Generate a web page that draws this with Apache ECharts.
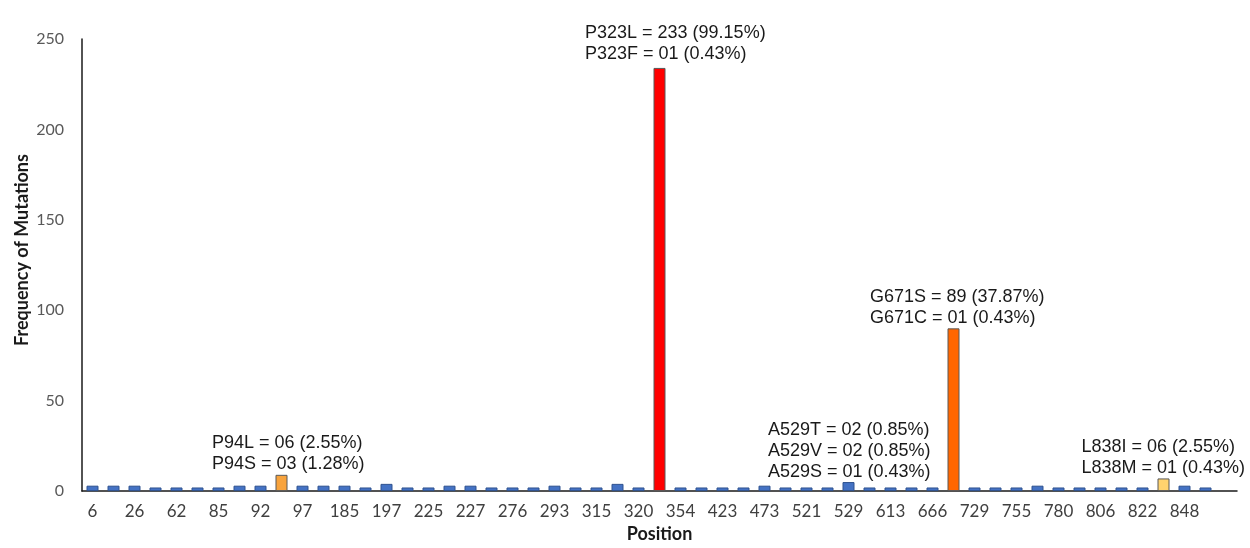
<!DOCTYPE html>
<html>
<head>
<meta charset="utf-8">
<script src="https://cdn.jsdelivr.net/npm/echarts@6/dist/echarts.min.js"></script>
<style>
html,body{margin:0;padding:0;background:#fff;}
#chart{width:1250px;height:548px;}
</style>
</head>
<body>
<div id="chart"></div>
<script>
// Positions (every other one is labelled on the axis in the reference)
const positions = ['6','14','26','48','62','71','85','88','92','94','97','133','185','192','197','214','225','226','227','252',
  '276','281','293','306','315','317','320','323','354','389','423','451','473','504','521','526','529','571','613','649',
  '666','671','729','742','755','768','780','795','806','814','822','838','848','869',''];
const frequencies = [3,3,3,2,2,2,2,3,3,9,3,3,3,2,4,2,2,3,3,2,
  2,2,3,2,2,4,2,234,2,2,2,2,3,2,2,2,5,2,2,2,
  2,90,2,2,2,3,2,2,2,2,2,7,3,2,null];
const notePositions = ['94','323','529','671','838'];
const noteTexts = [
  ['P94L = 06 (2.55%)','P94S = 03 (1.28%)'],
  ['P323L = 233 (99.15%)','P323F = 01 (0.43%)'],
  ['A529T = 02 (0.85%)','A529V = 02 (0.85%)','A529S = 01 (0.43%)'],
  ['G671S = 89 (37.87%)','G671C = 01 (0.43%)'],
  ['L838I = 06 (2.55%)','L838M = 01 (0.43%)']
];
const yTicks = [0,50,100,150,200,250];

const colorFor = {
  '94':'#F8A33C', '323':'#FF0000', '671':'#FF6600', '838':'#FFD36E'
};
const noteOffsetX = {'94':7,'323':16,'529':1,'671':4,'838':0};
const noteDist = {'94':0,'323':3,'529':0,'671':0,'838':0};

const NOTE_FONT = '18px "Liberation Sans"';
const ctx = document.createElement('canvas').getContext('2d');
ctx.font = NOTE_FONT;
function blockWidth(lines){ return Math.ceil(Math.max(...lines.map(t=>ctx.measureText(t).width))); }

const data = frequencies.map((v,i)=>{
  const cat = positions[i];
  const item = {value: v};
  const c = colorFor[cat];
  if (c) item.itemStyle = {color: c, borderColor: '#595959', borderWidth: 1};
  const ni = notePositions.indexOf(cat);
  if (ni >= 0) {
    const w = blockWidth(noteTexts[ni]);
    item.label = {
      show: true,
      position: 'top',
      distance: noteDist[cat],
      offset: [noteOffsetX[cat], 0],
      formatter: noteTexts[ni].map(t=>'{a|'+t+'}').join('\n'),
      rich: {a: {width: w, align: 'left', fontFamily: 'Liberation Sans', fontSize: 18, lineHeight: 21, color: '#1a1a1a'}}
    };
  }
  return item;
});

const chart = echarts.init(document.getElementById('chart'), null, {renderer:'canvas'});
chart.setOption({
  animation: false,
  backgroundColor: '#fff',
  grid: {left: 82, right: 13, top: 39, bottom: 51, containLabel: false},
  xAxis: {
    type: 'category',
    data: positions,
    name: 'Position',
    nameLocation: 'middle',
    nameGap: 31,
    nameTextStyle: {fontFamily: 'Lato', fontWeight: 'bold', fontSize: 18, color: '#1a1a1a'},
    axisLine: {lineStyle: {color: '#1a1a1a', width: 1.5}},
    axisTick: {show: false},
    axisLabel: {interval: 1, margin: 12, fontFamily: 'Lato', fontSize: 17, color: '#404040'}
  },
  yAxis: {
    type: 'value',
    min: yTicks[0], max: yTicks[yTicks.length-1], interval: 50,
    axisLine: {show: true, lineStyle: {color: '#1a1a1a', width: 1.5}},
    axisTick: {show: false},
    splitLine: {show: false},
    axisLabel: {margin: 18, fontFamily: 'Lato', fontSize: 16, color: '#595959'}
  },
  graphic: [{
    type: 'text',
    x: 22, y: 250,
    rotation: Math.PI/2,
    style: {text: 'Frequency of Mutations', fontFamily: 'Lato', fontWeight: 'bold', fontSize: 18, fill: '#1a1a1a', align: 'center', verticalAlign: 'middle'}
  }],
  series: [{
    type: 'bar',
    data: data,
    barWidth: 12,
    itemStyle: {color: '#4472C4', borderColor: '#2F528F', borderWidth: 1}
  }]
});
</script>
</body>
</html>
